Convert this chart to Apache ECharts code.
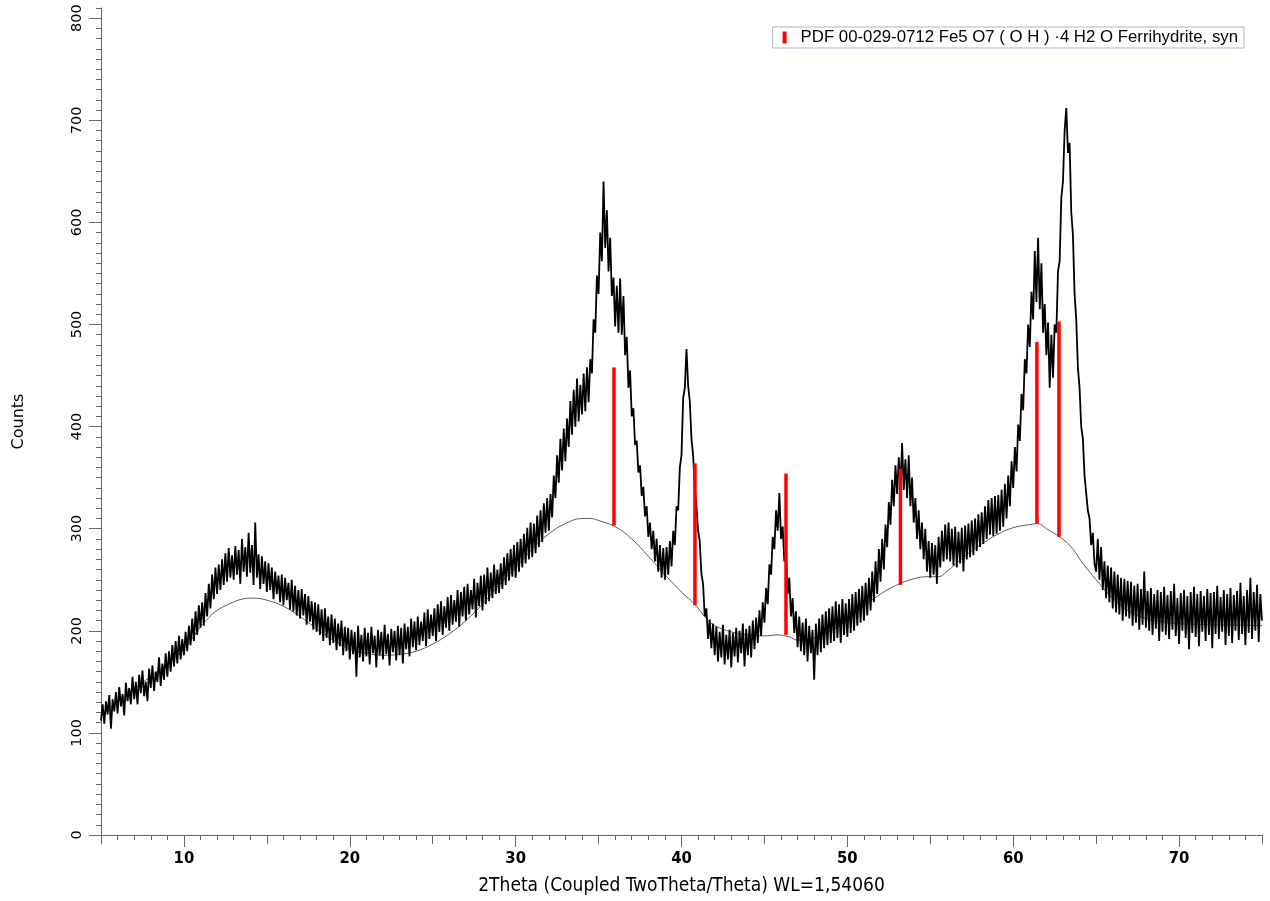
<!DOCTYPE html>
<html><head><meta charset="utf-8">
<script src="https://cdn.jsdelivr.net/npm/echarts@6/dist/echarts.min.js"></script>
<style>html,body{margin:0;padding:0;background:#fff}#c{width:1270px;height:901px}</style>
</head><body><div id="c"></div>
<script>
// 2Theta grid of the scan: start and step (degrees)
const thetaStart = 5.0;
const thetaStep = 0.1;
// Counts, one row per degree (5.0 ... 75.0)
const counts = [
112,128,109,131,118,137,104,133,121,140,
119,145,126,138,117,149,131,144,128,155,
133,150,128,157,139,161,136,150,131,163,
144,166,141,160,150,174,146,168,152,178,
155,180,160,186,165,190,168,195,172,192,
176,199,180,205,186,212,190,219,196,225,
203,228,205,237,214,246,222,255,231,262,
236,265,240,270,245,276,248,281,252,274,
250,283,255,279,246,290,258,282,253,296,
257,284,245,306,252,275,241,273,246,268,
238,266,240,262,231,258,236,254,228,255,
225,252,230,247,221,250,219,244,215,240,
212,241,215,236,206,234,209,229,201,228,
199,226,196,221,190,222,193,214,186,216,
188,212,181,207,185,210,176,204,180,203,
172,201,177,199,155,205,174,196,170,203,
175,198,167,204,178,195,164,201,176,199,
172,206,177,197,166,202,179,200,171,205,
176,203,168,207,182,204,175,212,184,209,
181,214,186,209,190,218,185,221,192,216,
195,222,190,226,199,229,196,224,203,233,
200,235,206,230,209,240,204,238,214,243,
210,246,216,240,221,251,213,247,224,254,
220,255,226,262,229,257,232,265,236,260,
237,266,241,272,245,276,249,280,253,284,
252,287,258,290,262,295,266,301,270,306,
272,305,276,313,282,318,287,325,296,330,
298,334,311,352,330,372,345,388,357,398,
366,408,380,425,392,436,400,447,405,441,
412,452,415,458,424,466,452,505,492,548,
530,590,562,640,575,612,552,585,528,546,
498,538,492,545,490,528,470,488,438,455,
410,418,382,386,355,362,332,341,312,322,
292,306,280,298,268,290,258,284,252,281,
250,282,255,288,263,298,284,322,318,360,
372,428,438,476,440,425,388,372,340,322,
298,288,256,246,214,222,192,211,183,207,
176,204,170,199,174,206,167,196,172,201,
164,198,175,203,169,200,178,207,165,202,
176,205,174,210,182,213,188,220,195,228,
208,242,226,265,255,292,280,318,298,335,
290,302,268,278,236,252,214,232,198,219,
184,214,180,208,176,212,170,205,178,201,
152,207,176,212,179,216,183,219,186,222,
188,224,190,229,193,226,188,231,196,227,
194,231,198,236,200,238,205,241,208,244,
210,247,215,252,220,258,228,268,236,280,
248,290,260,304,282,326,304,348,322,362,
334,370,340,384,338,368,330,372,322,350,
306,330,290,318,280,306,270,300,258,288,
252,286,255,284,246,292,262,298,268,304,
270,306,268,300,264,302,262,297,266,301,
258,303,270,305,272,308,274,310,278,314,
282,316,285,322,290,328,294,330,293,332,
295,333,298,338,302,344,310,352,322,366,
340,380,356,402,386,432,416,466,452,500,
478,532,505,572,522,585,515,560,492,520,
470,502,438,490,448,500,492,552,562,624,
640,690,712,668,678,610,588,530,505,458,
438,400,388,352,352,318,310,284,296,266,
258,290,250,282,240,268,232,264,228,262,
222,258,218,255,216,252,210,251,214,249,
212,248,205,244,208,246,201,241,206,258,
203,239,200,242,196,236,202,240,190,238,
199,243,196,235,192,239,201,246,195,232,
187,237,200,240,193,234,182,238,198,243,
194,236,185,239,199,234,190,241,196,237,
183,238,197,244,192,233,199,240,186,236,
195,242,188,235,200,239,191,247,197,234,
186,240,198,252,192,238,200,245,189,236,
210
];
// Background curve (thin line)
const bgTheta  = [5, 7, 9, 10, 11, 11.5, 12, 12.7, 13.5, 14.2, 15, 16, 17, 18, 19, 20, 21, 22, 23, 24, 25, 26, 27, 28, 29, 30, 31, 32, 33, 34, 34.5, 35, 36, 37, 38, 39, 40, 40.8, 41.5, 42, 43, 44, 45, 45.8, 46.5, 47, 47.5, 48, 49, 50, 51, 52, 53, 54, 54.8, 55.5, 56, 57, 58, 59, 60, 61, 61.5, 62, 62.8, 63.5, 64.2, 65, 66, 67, 68, 69, 70, 72, 75];
const bgCounts = [118, 143, 168, 182, 204, 213, 220, 226, 231, 232, 230, 224, 214, 202, 191, 182, 178, 176, 177, 180, 187, 197, 210, 226, 245, 262, 280, 295, 305, 310, 310, 308, 302, 290, 273, 255, 238, 226, 212, 205, 199, 196, 195, 196, 194, 191, 191, 193, 200, 211, 224, 236, 245, 251, 253, 253, 258, 272, 284, 294, 301, 304, 305, 300, 292, 282, 266, 250, 232, 219, 212, 209, 207, 206, 205];
// Reference pattern sticks (PDF 00-029-0712)
const stickTheta = [35.93, 40.81, 46.3, 53.2, 61.43, 62.76];
const stickBase  = [303, 225, 196, 245, 305, 292];
const stickTop   = [458, 364, 354, 359, 483, 503];
const xTickLabels = [10, 20, 30, 40, 50, 60, 70];
const yTickLabels = [0, 100, 200, 300, 400, 500, 600, 700, 800];
const legendName = 'PDF 00-029-0712 Fe5 O7 ( O H ) \u00B74 H2 O Ferrihydrite, syn';
const xTitle = '2Theta (Coupled TwoTheta/Theta) WL=1,54060';
const yTitle = 'Counts';

const scan = counts.map((c, i) => [+(thetaStart + i * thetaStep).toFixed(2), c]);
const bg = bgTheta.map((t, i) => [t, bgCounts[i]]);
const sticks = stickTheta.map((t, i) => [t, stickBase[i], stickTop[i]]);

const axisCol = '#666';
const condensed = "'DejaVu Sans Condensed','Liberation Sans Narrow','Liberation Sans'";
const g = {left: 101, right: 8, top: 8, bottom: 66};
const chart = echarts.init(document.getElementById('c'), null, {renderer: 'canvas'});
chart.setOption({
  animation: false,
  backgroundColor: '#fff',
  grid: [Object.assign({}, g), Object.assign({}, g), Object.assign({}, g)],
  xAxis: [
    {gridIndex: 0, type: 'value', min: 5, max: 75, interval: 1,
     axisLine: {show: true, onZero: false, lineStyle: {color: axisCol, width: 1}},
     axisTick: {show: true, length: 5, lineStyle: {color: axisCol}},
     axisLabel: {show: false}, splitLine: {show: false}},
    {gridIndex: 1, type: 'value', min: 5, max: 75, interval: 5,
     axisLine: {show: false}, axisTick: {show: true, length: 9, lineStyle: {color: axisCol}},
     axisLabel: {show: false}, splitLine: {show: false}},
    {gridIndex: 2, type: 'value', min: 5, max: 75,
     axisLine: {show: false},
     axisTick: {show: true, length: 12, customValues: xTickLabels, lineStyle: {color: axisCol}},
     axisLabel: {show: true, customValues: xTickLabels, margin: 15, color: '#000',
                 fontFamily: condensed, fontSize: 16.5, fontWeight: 'bold'},
     splitLine: {show: false},
     name: xTitle, nameLocation: 'middle', nameGap: 42,
     nameTextStyle: {color: '#000', fontFamily: condensed, fontSize: 19}}
  ],
  yAxis: [
    {gridIndex: 0, type: 'value', min: 0, max: 810, interval: 10,
     axisLine: {show: true, onZero: false, lineStyle: {color: axisCol, width: 1}},
     axisTick: {show: true, length: 5, lineStyle: {color: axisCol}},
     axisLabel: {show: false}, splitLine: {show: false}},
    {gridIndex: 1, type: 'value', min: 0, max: 810,
     axisLine: {show: false},
     axisTick: {show: true, length: 12, customValues: yTickLabels, lineStyle: {color: axisCol}},
     axisLabel: {show: true, customValues: yTickLabels, rotate: 90, margin: 16, color: '#000',
                 fontFamily: "'DejaVu Sans'", fontSize: 14.5},
     splitLine: {show: false},
     name: yTitle, nameLocation: 'middle', nameRotate: 90, nameGap: 74,
     nameTextStyle: {color: '#000', fontFamily: "'DejaVu Sans'", fontSize: 16}},
    {gridIndex: 2, type: 'value', min: 0, max: 810, show: false}
  ],
  legend: {
    data: [{name: legendName, icon: 'rect'}],
    right: 26, top: 27, itemWidth: 4, itemHeight: 12, selectedMode: false,
    borderColor: '#a9b6cf', borderWidth: 1, backgroundColor: '#fff', padding: [2, 6, 2, 10],
    textStyle: {color: '#000', fontFamily: "'Liberation Sans'", fontSize: 16.8, padding: [0, 0, 0, 9]}
  },
  series: [
    {type: 'line', name: 'background', xAxisIndex: 0, yAxisIndex: 0, data: bg, smooth: 0.4,
     symbol: 'none', z: 1, lineStyle: {color: '#333', width: 0.8}, silent: true},
    {type: 'line', name: 'scan', xAxisIndex: 0, yAxisIndex: 0, data: scan,
     symbol: 'none', z: 2, lineStyle: {color: '#000', width: 1.8}, silent: true},
    {type: 'custom', name: legendName, xAxisIndex: 0, yAxisIndex: 0, data: sticks, z: 3,
     itemStyle: {color: '#ff0000'}, encode: {x: 0, y: [1, 2]},
     renderItem: function (params, api) {
       const p1 = api.coord([api.value(0), api.value(1)]);
       const p2 = api.coord([api.value(0), api.value(2)]);
       return {type: 'line', shape: {x1: p1[0], y1: p1[1], x2: p2[0], y2: p2[1]},
               style: {stroke: '#ff0000', lineWidth: 3.5}};
     }}
  ]
});
</script></body></html>
